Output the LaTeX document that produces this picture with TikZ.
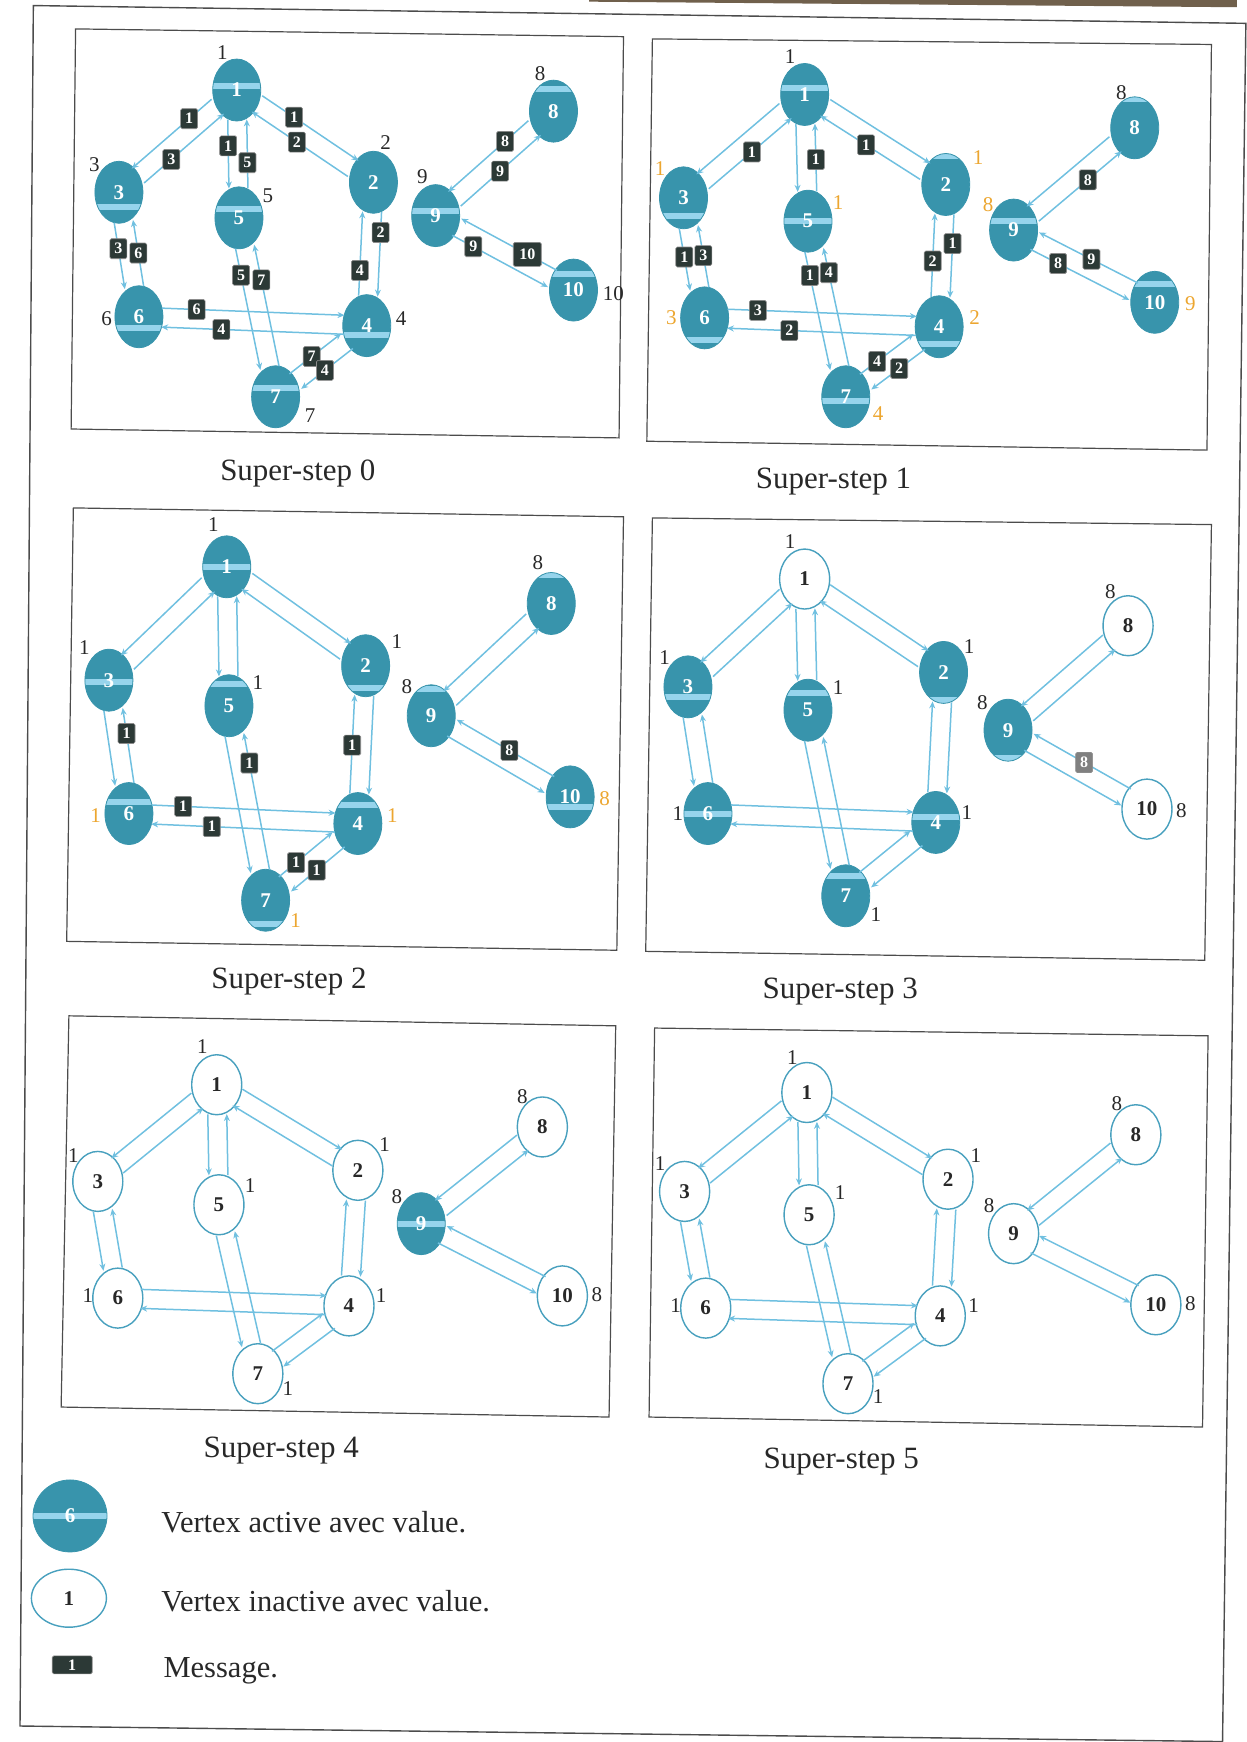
\documentclass[tikz,border=0pt]{standalone}
\usepackage{fontspec}
\setmainfont{Liberation Serif}
\usetikzlibrary{calc,shapes.geometric,arrows.meta}

\definecolor{vfill}{RGB}{56,148,172}
\definecolor{vring}{RGB}{72,160,190}
\definecolor{stripecol}{RGB}{150,212,236}
\definecolor{edgecol}{RGB}{112,192,224}
\definecolor{msgfill}{RGB}{44,57,54}
\definecolor{valorange}{RGB}{236,166,48}
\definecolor{inkgray}{RGB}{40,40,40}
\definecolor{scanbrown}{RGB}{112,96,76}

\tikzset{
  vtx/.style={ellipse, inner sep=0pt, font=\fontsize{21}{21}\selectfont\bfseries},
  act/.style={vtx, minimum width=48pt, minimum height=62pt, fill=vfill, draw=vfill, line width=.8pt, text=white},
  ina/.style={vtx, minimum width=50pt, minimum height=60pt, fill=white, draw=vring, line width=1.4pt, text=inkgray},
  stripe/.style={path picture={\fill[stripecol] ([yshift=#1-3pt]path picture bounding box.west) rectangle ([yshift=#1+3pt]path picture bounding box.east);}},
  link/.style={draw=edgecol, line width=1.5pt, -{Stealth[length=7pt,width=6pt]}},
  msg/.style={fill=msgfill, draw=black!45, line width=.6pt, rounded corners=1.5pt, text=white, font=\fontsize{16}{16}\selectfont\bfseries, inner sep=1.5pt, minimum width=17pt, minimum height=20pt},
  val/.style={font=\fontsize{21}{21}\selectfont, text=inkgray, inner sep=0pt},
  upd/.style={val, text=valorange},
  panelframe/.style={draw=black!70, line width=1.2pt},
  captext/.style={font=\fontsize{31}{31}\selectfont, text=inkgray},
  legtext/.style={font=\fontsize{30.5}{30.5}\selectfont, text=inkgray, anchor=west},
}

% vertex: id, x, y, style
\newcommand\vx[4]{\node[#4] (v#1) at (#2,#3) {#1};}
% value written beside a vertex: id, dx, dy, text, style
\newcommand\vlab[5]{\node[#5] (l#1) at ([shift={(#2,#3)}]v#1.center) {#4};}
% one directed line of a pair: from, to, side (+ left / - right), name
\newcommand\vlink[4]{%
  \draw[link] let \p1=($(v#2)-(v#1)$), \n1={atan2(\y1,\x1)},
    \n2={sqrt(1/(cos(\n1)^2/600+sin(\n1)^2/961)-90)} in
    ($(v#1)+(\n1:\n2*1pt)+(\n1#390:9.5pt)$) coordinate (#4s)
    -- ($(v#2)-(\n1:\n2*1pt)+(\n1#390:9.5pt)$) coordinate (#4e);}
% message box sitting on a line: [style], line name, fraction, text
\newcommand\msgat[4][]{\node[msg,#1] (m#2) at ($(#2s)!#3!(#2e)$) {#4};}
% the same ten pairs of lines in every super-step
\newcommand\alledges{%
  \vlink{1}{3}{-}{e13} \vlink{3}{1}{-}{e31}
  \vlink{1}{2}{+}{e12} \vlink{2}{1}{+}{e21}
  \vlink{1}{5}{-}{e15} \vlink{5}{1}{-}{e51}
  \vlink{3}{6}{-}{e36} \vlink{6}{3}{-}{e63}
  \vlink{5}{7}{-}{e57} \vlink{7}{5}{-}{e75}
  \vlink{2}{4}{+}{e24} \vlink{4}{2}{+}{e42}
  \vlink{6}{4}{+}{e64} \vlink{4}{6}{+}{e46}
  \vlink{7}{4}{+}{e74} \vlink{4}{7}{+}{e47}
  \vlink{9}{8}{-}{e98} \vlink{8}{9}{-}{e89}
  \vlink{9}{10}{-}{e910} \vlink{10}{9}{-}{e109}}

\begin{document}
\begin{tikzpicture}[x=1.1114pt, y=-1.1114pt]
\useasboundingbox (0,0) rectangle (1122,1567.4);

% page edge and outer frame
\fill[scanbrown] (530,0) -- (1113,0) -- (1113,6.5) -- (530,1.5) -- cycle;
\draw[panelframe, line width=1.4pt] (30,5) -- (1121,21) -- (1100,1567) -- (18,1553) -- cycle;

% panel frames
\draw[panelframe] (68,26) -- (561,33) -- (557,394) -- (64,386) -- cycle;
\draw[panelframe] (587,35) -- (1090,40) -- (1086,405) -- (582,397) -- cycle;
\draw[panelframe] (66,457) -- (561,465) -- (555,855) -- (60,847) -- cycle;
\draw[panelframe] (587,466) -- (1090,472) -- (1084,864) -- (581,856) -- cycle;
\draw[panelframe] (62,914) -- (554,923) -- (548,1275) -- (55,1266) -- cycle;
\draw[panelframe] (589,925) -- (1087,932) -- (1082,1284) -- (584,1275) -- cycle;

% ---------- super-step 0 ----------
\begin{scope}[name prefix=a-]
\vx{1}{213}{81}{act,stripe=4pt}
\vx{2}{336}{164}{act}
\vx{3}{107}{173}{act,stripe=-15pt}
\vx{4}{330}{293}{act,stripe=-9pt}
\vx{5}{215}{196}{act,stripe=9pt}
\vx{6}{125}{285}{act,stripe=-11pt}
\vx{7}{248}{357}{act,stripe=9pt}
\vx{8}{498}{100}{act,stripe=22pt}
\vx{9}{392}{194}{act,stripe=5pt}
\vx{10}{516}{261}{act,stripe=16pt}
\alledges
\msgat{e13}{.28}{1} \msgat{e31}{.34}{3}
\msgat{e12}{.33}{1} \msgat{e21}{.53}{2}
\msgat{e15}{.38}{1} \msgat{e51}{.37}{5}
\msgat{e36}{.39}{3} \msgat{e63}{.5}{6}
\msgat{e57}{.22}{5} \msgat{e75}{.71}{7}
\msgat{e24}{.24}{2} \msgat{e42}{.3}{4}
\msgat{e64}{.19}{6} \msgat{e46}{.67}{4}
\msgat{e74}{.43}{7} \msgat{e47}{.54}{4}
\msgat{e89}{.29}{8} \msgat{e98}{.49}{9}
\msgat[minimum width=28pt, minimum height=24pt]{e109}{.31}{10} \msgat{e910}{.22}{9}
\vlab{1}{-13}{-34}{1}{val}
\vlab{2}{11}{-36}{2}{val}
\vlab{3}{-22}{-25}{3}{val}
\vlab{4}{31}{-6}{4}{val}
\vlab{5}{26}{-20}{5}{val}
\vlab{6}{-29}{2}{6}{val}
\vlab{7}{31}{17}{7}{val}
\vlab{8}{-12}{-34}{8}{val}
\vlab{9}{-12}{-35}{9}{val}
\vlab{10}{36}{3}{10}{val}
\end{scope}
\node[captext] (cap0) at (268,426) {Super-step 0};

% ---------- super-step 1 ----------
\begin{scope}[name prefix=b-]
\vx{1}{724}{85}{act,stripe=6pt}
\vx{2}{851}{166}{act,stripe=28pt}
\vx{3}{615}{178}{act,stripe=-18pt}
\vx{4}{845}{294}{act,stripe=-17pt}
\vx{5}{727}{199}{act,stripe=0pt}
\vx{6}{634}{286}{act,stripe=-22pt}
\vx{7}{761}{357}{act,stripe=-4pt}
\vx{8}{1021}{115}{act,stripe=29pt}
\vx{9}{912}{207}{act,stripe=9pt}
\vx{10}{1039}{272}{act,stripe=18pt}
\alledges
\msgat{e31}{.52}{1} \msgat{e21}{.54}{1} \msgat{e51}{.47}{1}
\msgat{e36}{.46}{1} \msgat{e63}{.51}{3}
\msgat{e57}{.2}{1} \msgat{e75}{.79}{4}
\msgat{e24}{.35}{1} \msgat{e42}{.43}{2}
\msgat{e64}{.16}{3} \msgat{e46}{.67}{2}
\msgat{e74}{.32}{4} \msgat{e47}{.48}{2}
\msgat{e98}{.59}{8} \msgat{e109}{.47}{9} \msgat{e910}{.28}{8}
\vlab{1}{-13}{-34}{1}{val}
\vlab{2}{29}{-24}{1}{upd}
\vlab{3}{-21}{-26}{1}{upd}
\vlab{4}{32}{-8}{2}{upd}
\vlab{5}{27}{-17}{1}{upd}
\vlab{6}{-30}{0}{3}{upd}
\vlab{7}{29}{15}{4}{upd}
\vlab{8}{-12}{-32}{8}{val}
\vlab{9}{-23}{-23}{8}{upd}
\vlab{10}{32}{1}{9}{upd}
\end{scope}
\node[captext] (cap1) at (750,433) {Super-step 1};

% ---------- super-step 2 ----------
\begin{scope}[name prefix=c-]
\vx{1}{204}{510}{act,stripe=0pt}
\vx{2}{329}{599}{act,stripe=-22pt}
\vx{3}{98}{612}{act,stripe=-2pt}
\vx{4}{322}{741}{act,stripe=19pt}
\vx{5}{206}{635}{act,stripe=22pt}
\vx{6}{116}{732}{act,stripe=12pt}
\vx{7}{239}{810}{act,stripe=-24pt}
\vx{8}{496}{543}{act,stripe=28pt}
\vx{9}{388}{644}{act,stripe=27pt}
\vx{10}{513}{717}{act,stripe=-10pt}
\alledges
\msgat{e63}{.66}{1} \msgat{e75}{.78}{1} \msgat{e42}{.49}{1}
\msgat{e64}{.17}{1} \msgat{e46}{.67}{1}
\msgat{e74}{.32}{1} \msgat{e47}{.52}{1}
\msgat{e109}{.46}{8}
\vlab{1}{-12}{-38}{1}{val}
\vlab{2}{28}{-22}{1}{val}
\vlab{3}{-22}{-29}{1}{val}
\vlab{4}{31}{-7}{1}{upd}
\vlab{5}{26}{-21}{1}{val}
\vlab{6}{-30}{2}{1}{upd}
\vlab{7}{27}{18}{1}{upd}
\vlab{8}{-12}{-37}{8}{val}
\vlab{9}{-22}{-26}{8}{val}
\vlab{10}{31}{2}{8}{upd}
\end{scope}
\node[captext] (cap2) at (260,883) {Super-step 2};

% ---------- super-step 3 ----------
\begin{scope}[name prefix=d-]
\vx{1}{724}{521}{ina}
\vx{2}{849}{605}{act,stripe=-28pt}
\vx{3}{619}{618}{act,stripe=-10pt}
\vx{4}{842}{740}{act,stripe=5pt}
\vx{5}{727}{639}{act,stripe=17pt}
\vx{6}{637}{732}{act,stripe=0pt}
\vx{7}{761}{806}{act,stripe=20pt}
\vx{8}{1015}{563}{ina}
\vx{9}{907}{657}{act,stripe=-28pt}
\vx{10}{1032}{728}{ina}
\alledges
\msgat[fill=black!50]{e109}{.48}{8}
\vlab{1}{-13}{-34}{1}{val}
\vlab{2}{23}{-23}{1}{val}
\vlab{3}{-21}{-26}{1}{val}
\vlab{4}{28}{-9}{1}{val}
\vlab{5}{27}{-20}{1}{val}
\vlab{6}{-27}{0}{1}{val}
\vlab{7}{27}{17}{1}{val}
\vlab{8}{-16}{-31}{8}{val}
\vlab{9}{-23}{-25}{8}{val}
\vlab{10}{31}{1}{8}{val}
\end{scope}
\node[captext] (cap3) at (756,892) {Super-step 3};

% ---------- super-step 4 ----------
\begin{scope}[name prefix=e-]
\vx{1}{195}{976}{ina}
\vx{2}{322}{1053}{ina}
\vx{3}{88}{1063}{ina}
\vx{4}{314}{1175}{ina}
\vx{5}{197}{1084}{ina}
\vx{6}{106}{1168}{ina}
\vx{7}{232}{1236}{ina}
\vx{8}{488}{1014}{ina}
\vx{9}{379}{1101}{act,stripe=0pt}
\vx{10}{506}{1166}{ina}
\alledges
\vlab{1}{-13}{-34}{1}{val}
\vlab{2}{24}{-23}{1}{val}
\vlab{3}{-22}{-23}{1}{val}
\vlab{4}{29}{-9}{1}{val}
\vlab{5}{28}{-17}{1}{val}
\vlab{6}{-27}{-2}{1}{val}
\vlab{7}{27}{13}{1}{val}
\vlab{8}{-18}{-27}{8}{val}
\vlab{9}{-22}{-24}{8}{val}
\vlab{10}{31}{-1}{8}{val}
\end{scope}
\node[captext] (cap4) at (253,1305) {Super-step 4};

% ---------- super-step 5 ----------
\begin{scope}[name prefix=f-]
\vx{1}{726}{983}{ina}
\vx{2}{853}{1061}{ina}
\vx{3}{616}{1072}{ina}
\vx{4}{846}{1184}{ina}
\vx{5}{728}{1093}{ina}
\vx{6}{635}{1177}{ina}
\vx{7}{763}{1245}{ina}
\vx{8}{1022}{1021}{ina}
\vx{9}{912}{1110}{ina}
\vx{10}{1040}{1174}{ina}
\alledges
\vlab{1}{-13}{-31}{1}{val}
\vlab{2}{25}{-21}{1}{val}
\vlab{3}{-22}{-25}{1}{val}
\vlab{4}{30}{-9}{1}{val}
\vlab{5}{28}{-20}{1}{val}
\vlab{6}{-27}{-2}{1}{val}
\vlab{7}{27}{12}{1}{val}
\vlab{8}{-17}{-28}{8}{val}
\vlab{9}{-22}{-25}{8}{val}
\vlab{10}{31}{-1}{8}{val}
\end{scope}
\node[captext] (cap5) at (757,1315) {Super-step 5};

% ---------- legend ----------
\node[act, minimum width=74pt, minimum height=72pt, stripe=0pt] (legact) at (63,1364) {6};
\node[ina, minimum width=75pt, minimum height=58pt] (legina) at (62,1438) {1};
\node[msg, minimum width=40pt, minimum height=18pt] (legmsg) at (65,1498) {1};
\node[legtext] (legt1) at (142,1370) {Vertex active avec value.};
\node[legtext] (legt2) at (142,1441) {Vertex inactive avec value.};
\node[legtext] (legt3) at (144,1503) {Message.};
\end{tikzpicture}
\end{document}
